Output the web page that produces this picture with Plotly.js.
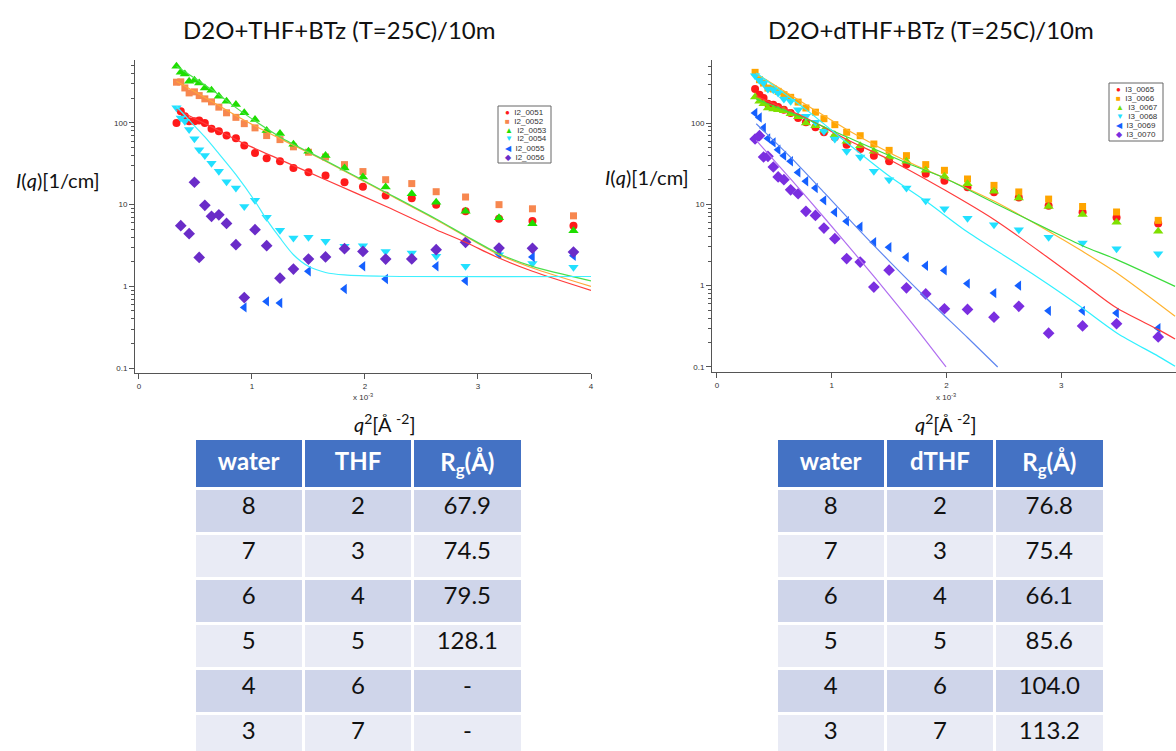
<!DOCTYPE html>
<html><head><meta charset="utf-8">
<script src="https://cdn.plot.ly/plotly-3.0.1.min.js"></script>
<style>html,body{margin:0;padding:0;background:#fff}#chart{width:1176px;height:751px}.scrollbar-kit{display:none}</style>
</head><body><div id="chart"></div><script>
// q^2 grid (units of 1e-3 Å^-2)
const q2 = [0.332,0.370,0.406,0.444,0.491,0.533,0.583,0.642,0.707,0.775,0.858,0.932,1.027,1.130,1.248,1.367,1.500,1.651,1.819,1.982,2.183,2.414,2.630,2.890,3.186,3.482,3.845];

// Left panel: D2O+THF+BTz
const namesL = ['I2_0051','I2_0052','I2_0053','I2_0054','I2_0055','I2_0056'];
const I2_0051 = [100,139,121,105,105,107,100,85,79,70,65,53,43,37,34,28,25,22.7,18.8,16.6,12.9,12,10,8.3,6.7,6.3,5.5];
const I2_0052 = [315,318,268,233,240,216,197,181,156,133,117,98,87,70,62.5,51,43.8,38.3,30.9,25.4,20.2,18.1,14.4,12.4,10,8.9,7.3];
const I2_0053 = [494,417,398,324,333,309,268,251,212,184,168,133,110,80.6,74,55,45,40,28,21.8,16.4,13.6,10.7,8.3,6.9,5.85,4.8];
const I2_0054 = [153,115,105,83,64,47,40,32,25.6,19,16,9.5,11.3,7,4.85,3.9,4.0,3.56,3.09,3.15,2.68,2.56,2.33,1.76,2.44,1.9,1.71];
const I2_0055 = [null,null,null,null,null,null,null,null,null,null,null,0.553,null,0.655,0.625,null,1.53,null,0.93,1.76,1.23,null,1.76,1.17,2.51,2.29,2.37];
const I2_0056 = [null,5.53,null,4.41,18.8,2.26,9.8,7.2,7.5,5.9,3.24,0.73,4.94,3.15,1.26,1.63,2.16,2.29,2.89,2.68,2.16,2.17,2.81,3.46,2.94,2.92,2.63];
const seriesL = [I2_0051,I2_0052,I2_0053,I2_0054,I2_0055,I2_0056];

// Left fits
const fitL_x = [0.332,0.642,0.932,1.248,1.651,2.183,2.630,2.890,3.186,3.482,4.0];
const fitL_red_y = [146,89.4,55.8,35.6,20.2,9.55,4.94,3.46,2.22,1.53,0.893];
const fitL_orange_y = [324,184,108,64.3,34.0,13.9,6.55,4.09,2.44,1.68,1.0];
const fitL_green_y = [494,256,130,67.4,34.6,14.2,6.67,4.17,2.51,1.76,1.17];
const fitL_cyan_x = [0.332,0.444,0.583,0.707,0.858,1.027,1.130,1.248,1.367,1.500,1.651,1.819,2.183,4.0];
const fitL_cyan_y = [160,108,67.4,42.1,23.3,11.0,6.55,3.91,2.44,1.76,1.48,1.38,1.33,1.32];

// Right panel: D2O+dTHF+BTz
const namesR = ['I3_0065','I3_0066','I3_0067','I3_0068','I3_0069','I3_0070'];
const I3_0065 = [262,223,203,173,168,157,146,133,115,102,89,77,67,54,47.9,39.7,33.8,30.8,23.8,19.5,16.2,14.1,12.1,9.6,8.0,6.9,5.8];
const I3_0066 = [420,341,310,269,262,245,223,207,181,153,136,113,95.4,77,69.8,55.2,46.1,39.7,30.8,26.2,20.5,17.1,14.2,11.6,9.4,8.05,6.35];
const I3_0067 = [209,185,173,153,149,146,142,130,119,100,92.7,81.3,71.9,59.6,52.6,44.8,38.2,33.8,26.2,22.1,17.9,14.5,12,9.4,7.5,6.0,4.66];
const I3_0068 = [382,335,310,262,257,234,197,185,146,121,102,79,63.6,44.8,38.2,25.5,20.1,15.9,11.1,8.85,6.73,5.62,4.88,3.93,3.35,2.85,2.47];
const I3_0069 = [133,117,86.8,64.7,57.8,47,39.7,33.8,24.7,19.2,15.9,11.2,8.0,6.2,5.3,3.41,2.96,2.23,1.76,1.54,1.06,0.81,1.0,0.49,0.49,0.46,0.30];
const I3_0070 = [63.6,69.8,38.2,38.9,28.8,21.7,20.1,15.1,13.5,8.2,7.3,5.1,3.78,2.15,1.95,0.96,1.55,0.94,0.79,0.52,0.51,0.41,0.557,0.26,0.32,0.34,0.234];
const seriesR = [I3_0065,I3_0066,I3_0067,I3_0068,I3_0069,I3_0070];

// Right fits
const fitR_red_x = [0.342,0.777,1.134,1.503,1.981,2.417,2.889,3.185,3.484,3.847,3.992];
const fitR_red_y = [213,115,62.4,35.4,15.1,6.47,2.19,1.08,0.53,0.288,0.221];
const fitR_orange_x = [0.342,0.777,1.134,1.654,1.981,2.417,2.889,3.185,3.484,3.992];
const fitR_orange_y = [404,168,82.8,33.8,21.1,10.9,4.66,2.64,1.43,0.42];
const fitR_green_x = [0.342,0.777,1.134,1.654,1.981,2.417,2.889,3.185,3.484,3.992];
const fitR_green_y = [197,112,67.2,32.2,21.1,10.4,4.89,3.1,2.09,0.98];
const fitR_cyan_x = [0.342,0.777,1.134,1.503,1.822,2.187,2.628,2.889,3.185,3.484,3.847,3.992];
const fitR_cyan_y = [412,146,56.8,22.1,10.9,4.53,1.81,1.03,0.53,0.262,0.135,0.102];
const fitR_blue_x = [0.342,0.647,0.937,1.250,1.503,1.822,2.187,2.446];
const fitR_blue_y = [98.1,37.2,13.8,4.66,1.99,0.705,0.227,0.1];
const fitR_purple_x = [0.342,0.647,0.937,1.250,1.503,1.749,1.996];
const fitR_purple_y = [61.2,20.1,6.79,2.05,0.76,0.282,0.1];

// Tables
const tblWater = ['8','7','6','5','4','3'];
const tblTHF = ['2','3','4','5','6','7'];
const tblRgL = ['67.9','74.5','79.5','128.1','-','-'];
const tblRgR = ['76.8','75.4','66.1','85.6','104.0','113.2'];

const symbols = ['circle','square','triangle-up','triangle-down','triangle-left','diamond'];
const glyphs = ['●','■','▲','▼','◀','◆'];
const msize = [8,7,9,9,9,9];
const colL = ['#ff1a1a','#f7874f','#1ede00','#22e0ff','#1560ff','#6a2cc8'];
const colR = ['#ff1a1a','#ffa500','#7ee000','#22e0ff','#1560ff','#7a2ee0'];

const W = 1176, H = 751;
const px = v => v / W, py = v => 1 - v / H;

const traces = [];
seriesL.forEach((s, i) => traces.push({
  type:'scatter', mode:'markers', x:q2, y:s, name:namesL[i], xaxis:'x', yaxis:'y',
  marker:{symbol:symbols[i], size:msize[i], color:colL[i]}
}));
[[fitL_x,fitL_red_y,'#ff3b3b'],[fitL_x,fitL_orange_y,'#ffa53a'],[fitL_x,fitL_green_y,'#4ce04c'],[fitL_cyan_x,fitL_cyan_y,'#3ff0ff']].forEach(f => traces.push({
  type:'scatter', mode:'lines', x:f[0], y:f[1], xaxis:'x', yaxis:'y',
  line:{color:f[2], width:1.2, shape:'spline', smoothing:0.8}
}));
seriesR.forEach((s, i) => traces.push({
  type:'scatter', mode:'markers', x:q2, y:s, name:namesR[i], xaxis:'x2', yaxis:'y2',
  marker:{symbol:symbols[i], size:msize[i], color:colR[i]}
}));
[[fitR_red_x,fitR_red_y,'#ff3b3b'],[fitR_orange_x,fitR_orange_y,'#ffb22e'],[fitR_green_x,fitR_green_y,'#3ddc3d'],[fitR_cyan_x,fitR_cyan_y,'#2ff0ff'],[fitR_blue_x,fitR_blue_y,'#5f86f0'],[fitR_purple_x,fitR_purple_y,'#b06ef0']].forEach(f => traces.push({
  type:'scatter', mode:'lines', x:f[0], y:f[1], xaxis:'x2', yaxis:'y2',
  line:{color:f[2], width:1.2, shape:'spline', smoothing:0.8}
}));

function makeTable(domX, head2, rg) {
  const c1 = '#CFD5EA', c2 = '#E9EBF5';
  const rowFill = tblWater.map((_, r) => r % 2 === 0 ? c1 : c2);
  return {
    type:'table', domain:{x:domX, y:[0, py(438)]}, columnwidth:[1,1,1],
    header:{values:['<b>water</b>','<b>'+head2+'</b>','<b>R<sub>g</sub>(Å)</b>'],
      fill:{color:'#4472C4'}, font:{family:'Lato', size:24, color:'#ffffff'},
      line:{color:'#ffffff', width:3}, height:44, align:'center'},
    cells:{values:[tblWater, tblTHF, rg], fill:{color:[rowFill,rowFill,rowFill]},
      font:{family:'Lato', size:24, color:'#111111'}, line:{color:'#ffffff', width:3}, height:45, align:'center'}
  };
}
traces.push(makeTable([px(194), px(522)], 'THF', tblRgL));
traces.push(makeTable([px(776), px(1104)], 'dTHF', tblRgR));

const minorVals = [];
[0.1,1,10,100].forEach(d => { for (let k = 2; k <= 9; k++) minorVals.push(d*k); });

function xax(domain, range) {
  return {domain, range, tickmode:'array', tickvals:[0,1,2,3,4], ticktext:['0','1','2','3','4'],
    showline:true, linecolor:'#555', linewidth:1, ticks:'outside', ticklen:5, tickcolor:'#555',
    showgrid:false, zeroline:false, tickfont:{family:'Liberation Sans', size:8, color:'#333'}, fixedrange:true};
}
function yax(domain, range, anchor) {
  return {domain, range, type:'log', anchor, tickmode:'array', tickvals:[0.1,1,10,100], ticktext:['0.1','1','10','100'],
    showline:true, linecolor:'#555', linewidth:1, ticks:'outside', ticklen:5, tickcolor:'#555',
    minor:{tickvals:minorVals, ticks:'outside', ticklen:3, tickcolor:'#555'},
    showgrid:false, zeroline:false, tickfont:{family:'Liberation Sans', size:8, color:'#333'}, fixedrange:true};
}

const ann = [
  {text:'D2O+THF+BTz (T=25C)/10m', x:px(339), y:py(29), font:{size:24, family:'Lato', color:'#111'}},
  {text:'D2O+dTHF+BTz (T=25C)/10m', x:px(931), y:py(29), font:{size:24, family:'Lato', color:'#111'}},
  {text:'<i>I</i>(<i>q</i>)[1/cm]', x:px(58), y:py(180), font:{size:20, family:'Lato', color:'#111'}},
  {text:'<i>I</i>(<i>q</i>)[1/cm]', x:px(647), y:py(177), font:{size:20, family:'Lato', color:'#111'}},
  {text:'<i>q</i><sup>2</sup>[Å <sup>-2</sup>]', x:px(385), y:py(423), font:{size:20, family:'Lato', color:'#111'}},
  {text:'<i>q</i><sup>2</sup>[Å <sup>-2</sup>]', x:px(946), y:py(423), font:{size:20, family:'Lato', color:'#111'}},
  {text:'x 10<sup>-3</sup>', x:px(363), y:py(397), font:{size:8, family:'Liberation Sans', color:'#333'}},
  {text:'x 10<sup>-3</sup>', x:px(946), y:py(397), font:{size:8, family:'Liberation Sans', color:'#333'}}
];
const shapes = [];
function addLegend(names, cols, left, top, right, bottom) {
  shapes.push({type:'rect', xref:'paper', yref:'paper', x0:px(left), x1:px(right), y0:py(bottom), y1:py(top),
    line:{color:'#666', width:1}, fillcolor:'#fff', layer:'above'});
  const step = (bottom - top - 3) / names.length;
  names.forEach((n, i) => ann.push({
    text:'<span style="color:' + cols[i] + '">' + glyphs[i] + '</span>  ' + n,
    x:px(left + 5), y:py(top + 1.5 + step * (i + 0.5)), xanchor:'left', align:'left',
    font:{size:8, family:'Liberation Sans', color:'#333'}
  }));
}
addLegend(namesL, colL, 498, 106, 551, 163);
addLegend(namesR, colR, 1109, 83, 1163, 141);

const layout = {
  width:W, height:H, margin:{l:0, r:0, t:0, b:0}, showlegend:false,
  paper_bgcolor:'#fff', plot_bgcolor:'#fff', font:{family:'Liberation Sans'},
  xaxis: Object.assign(xax([px(135), px(591)], [-0.035, 4.0]), {anchor:'y'}),
  yaxis: yax([py(373), py(60)], [-1.06, 2.77], 'x'),
  xaxis2: Object.assign(xax([px(712), 1], [-0.0435, 4.0]), {anchor:'y2'}),
  yaxis2: yax([py(372), py(60)], [-1.062, 2.775], 'x2'),
  annotations: ann.map(a => Object.assign({xref:'paper', yref:'paper', showarrow:false, xanchor:'center', yanchor:'middle'}, a)),
  shapes, hovermode:false
};

Plotly.newPlot('chart', traces, layout, {displayModeBar:false, staticPlot:true});
</script></body></html>
